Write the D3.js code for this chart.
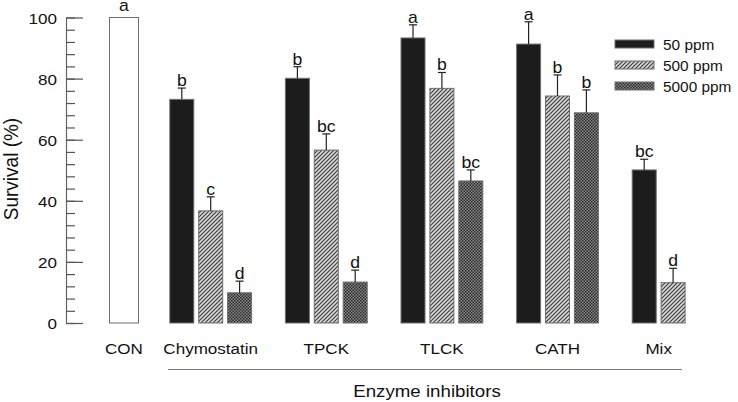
<!DOCTYPE html>
<html>
<head>
<meta charset="utf-8">
<script src="https://cdn.jsdelivr.net/npm/d3@7"></script>
<style>
  html, body { margin: 0; padding: 0; background: #fff; }
  svg { display: block; font-family: "Liberation Sans", Arial, Helvetica, sans-serif; }
</style>
</head>
<body>
<svg id="chart" width="738" height="402"></svg>
<script>
// ---- data ----
const groups = ["CON", "Chymostatin", "TPCK", "TLCK", "CATH", "Mix"];
const seriesNames = ["50 ppm", "500 ppm", "5000 ppm"];
const conValue = [100];
const conLetter = ["a"];
const values50   = [73.2, 80.1, 93.3, 91.3, 50.1];
const values500  = [36.7, 56.6, 76.8, 74.3, 13.2];
const values5000 = [9.9, 13.4, 46.5, 68.8, null];
const err50   = [3.7, 3.8, 4.3, 7.3, 3.5];
const err500  = [4.6, 5.3, 5.2, 6.9, 4.7];
const err5000 = [3.8, 3.9, 3.6, 7.5, null];
const letters50   = ["b", "b", "a", "a", "bc"];
const letters500  = ["c", "bc", "b", "b", "d"];
const letters5000 = ["d", "d", "bc", "b", null];
const yTicks = [0, 20, 40, 60, 80, 100];
const yMinorTicks = d3.range(0, 101, 4);

// ---- layout ----
const svg = d3.select("#chart");
const SX = 1.1; // horizontal glyph stretch seen in reference
const y = d3.scaleLinear().domain([0, 100]).range([323, 17.5]);
const x = d3.scaleLinear().domain([0, 19]).range([124, 124 + 19 * 28.9]);
const barW = 24, conW = 29;

// patterns
const defs = svg.append("defs");
const hatch = defs.append("pattern").attr("id", "hatch")
  .attr("patternUnits", "userSpaceOnUse").attr("width", 4).attr("height", 4);
hatch.append("rect").attr("width", 4).attr("height", 4).attr("fill", "#d6d6d6");
hatch.append("path").attr("d", "M-1,1 l2,-2 M0,4 l4,-4 M3,5 l2,-2")
  .attr("stroke", "#3a3a3a").attr("stroke-width", 1.1);
const check = defs.append("pattern").attr("id", "check")
  .attr("patternUnits", "userSpaceOnUse").attr("width", 3).attr("height", 3);
check.append("rect").attr("width", 3).attr("height", 3).attr("fill", "#8c8c8c");
check.append("rect").attr("width", 1.5).attr("height", 1.5).attr("fill", "#262626");
check.append("rect").attr("x", 1.5).attr("y", 1.5).attr("width", 1.5).attr("height", 1.5).attr("fill", "#262626");

const fills = ["#1c1c1c", "url(#hatch)", "url(#check)"];

function stretchedText(parent, tx, ty, str, size, anchor) {
  return parent.append("text")
    .attr("transform", `translate(${tx},${ty}) scale(${SX},1)`)
    .attr("text-anchor", anchor || "middle")
    .attr("font-size", size)
    .attr("fill", "#111")
    .text(str);
}

// ---- y axis ----
const axisG = svg.append("g").attr("transform", "translate(66,0)");
axisG.call(d3.axisLeft(y).tickValues(yMinorTicks).tickSizeInner(-9).tickSizeOuter(0).tickFormat(""));
axisG.call(g => g.selectAll("text").remove());
const majorG = svg.append("g").attr("transform", "translate(66,0)");
majorG.call(d3.axisLeft(y).tickValues(yTicks).tickSizeInner(-17).tickSizeOuter(0).tickPadding(9));
majorG.select(".domain").remove();
svg.selectAll(".domain").attr("stroke", "#666").attr("stroke-width", 1.2);
svg.selectAll(".tick line").attr("stroke", "#555").attr("stroke-width", 1.2);
majorG.selectAll(".tick text")
  .attr("x", null).attr("dy", "0.36em")
  .attr("transform", `translate(-9,0) scale(${SX},1)`)
  .attr("font-size", 15.5).attr("font-family", null).attr("fill", "#111");

svg.append("text")
  .attr("transform", "translate(17.5,169) rotate(-90) scale(1,1.08)")
  .attr("text-anchor", "middle").attr("font-size", 19).attr("fill", "#111")
  .text("Survival (%)");

// ---- bars ----
const bars = [];
bars.push({ slot: 0, v: conValue[0], e: 0, letter: conLetter[0], fill: "#fff", w: conW });
const seriesVals = [values50, values500, values5000];
const seriesErr = [err50, err500, err5000];
const seriesLet = [letters50, letters500, letters5000];
for (let g = 0; g < 5; g++) {
  for (let s = 0; s < 3; s++) {
    const v = seriesVals[s][g];
    if (v == null) continue;
    bars.push({ slot: 2 + g * 4 + s, v, e: seriesErr[s][g], letter: seriesLet[s][g], fill: fills[s], w: barW });
  }
}

const barG = svg.append("g");
bars.forEach(b => {
  const cx = x(b.slot);
  barG.append("rect")
    .attr("x", cx - b.w / 2).attr("y", y(b.v))
    .attr("width", b.w).attr("height", y(0) - y(b.v))
    .attr("fill", b.fill).attr("stroke", "#6e6e6e").attr("stroke-width", 1);
  let top = y(b.v);
  if (b.e > 0) {
    const et = y(b.v + b.e);
    barG.append("line").attr("x1", cx).attr("x2", cx).attr("y1", y(b.v)).attr("y2", et)
      .attr("stroke", "#222").attr("stroke-width", 1.2);
    barG.append("line").attr("x1", cx - 4).attr("x2", cx + 4).attr("y1", et).attr("y2", et)
      .attr("stroke", "#222").attr("stroke-width", 1.2);
    top = et - 2;
  } else {
    top = top - 7;
  }
  stretchedText(barG, cx, top, b.letter, 16);
});

// ---- category labels ----
const groupCenters = [0, 3, 7, 11, 15, 18.5];
groups.forEach((g, i) => stretchedText(svg, x(groupCenters[i]), 354, g, 15.5));

svg.append("line").attr("x1", 168).attr("x2", 682).attr("y1", 369.5).attr("y2", 369.5)
  .attr("stroke", "#777").attr("stroke-width", 1.2);
stretchedText(svg, 427, 397, "Enzyme inhibitors", 17);

// ---- legend ----
const leg = svg.append("g");
seriesNames.forEach((n, i) => {
  const ly = 40 + i * 21;
  leg.append("rect").attr("x", 615).attr("y", ly).attr("width", 39).attr("height", 8)
    .attr("fill", fills[i]).attr("stroke", "#6e6e6e").attr("stroke-width", 1);
  stretchedText(leg, 663, ly + 10, n, 14, "start");
});
</script>
</body>
</html>
